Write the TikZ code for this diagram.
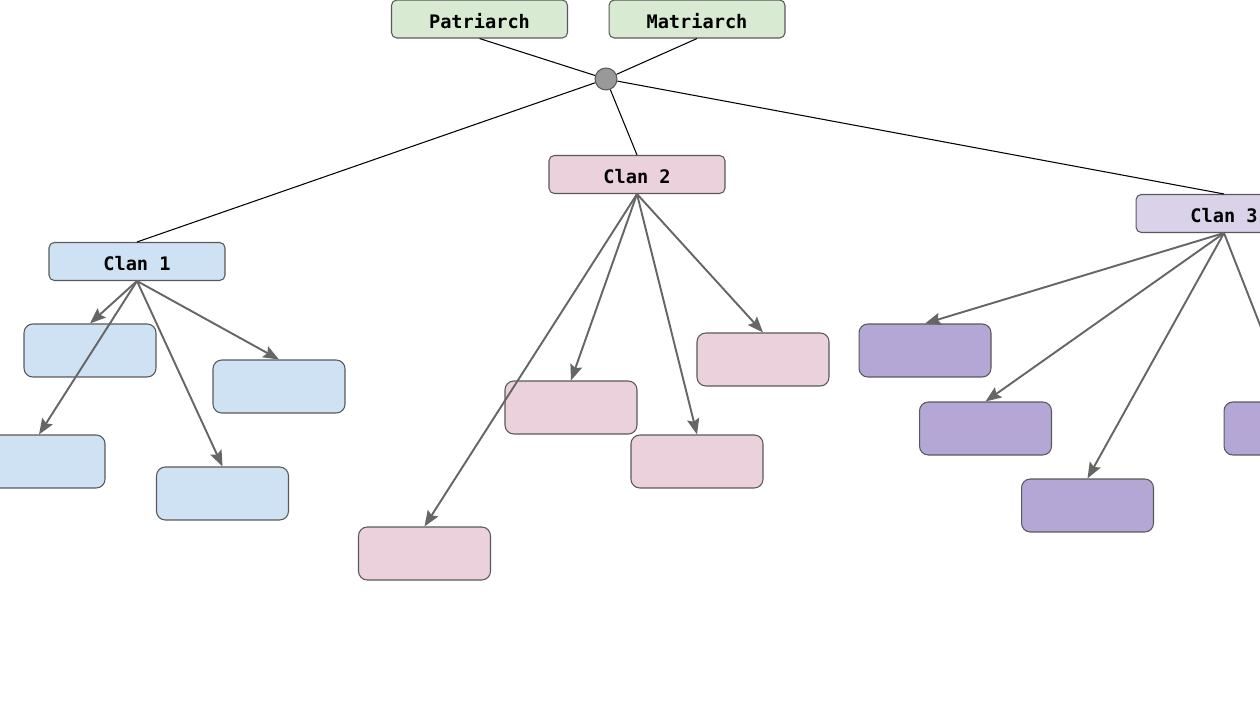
\documentclass[tikz,border=0pt]{standalone}
\usepackage{fontspec}
\setmonofont{DejaVu Sans Mono}
\usepackage{xcolor}
\usepackage{tikz}
\usetikzlibrary{arrows.meta}
\definecolor{ink}{HTML}{000000}
\definecolor{edge}{HTML}{595959}
\definecolor{arrowgray}{HTML}{666666}
\definecolor{sage}{HTML}{D9EAD3}
\definecolor{sky}{HTML}{CFE2F3}
\definecolor{rose}{HTML}{EAD1DC}
\definecolor{lilac}{HTML}{D9D2E9}
\definecolor{plum}{HTML}{B4A7D6}
\definecolor{hubgray}{HTML}{999999}

\begin{document}
\begin{tikzpicture}[x=0.02cm,y=-0.02cm,
    every node/.style={font=\ttfamily\bfseries\fontsize{10.6}{12}\selectfont},
    head/.style={draw=edge,line width=0.6pt,rounded corners=3pt,minimum width=3.52cm,minimum height=0.76cm,inner sep=0pt,text height=1.05em,text depth=0pt},
    kid/.style={draw=edge,line width=0.6pt,rounded corners=5pt,minimum width=2.64cm,minimum height=1.06cm,inner sep=0pt},
    tie/.style={ink,line width=0.6pt},
    down/.style={arrowgray,line width=1.1pt,-{Stealth[length=9pt,width=7pt,inset=1.5pt]}}]
        \useasboundingbox (0,0) rectangle (1260,709);
        \clip (0,0) rectangle (1260,709);
        % parents and hub
        \node[head,fill=sage] (pat) at (479.5,19) {Patriarch};
        \node[head,fill=sage] (mat) at (697,19) {Matriarch};
        \node[circle,draw=edge,fill=hubgray,line width=0.6pt,minimum size=0.44cm,inner sep=0pt] (hub) at (606,79) {};
        \node[head,fill=sky] (clan1) at (137,261.5) {Clan 1};
        \node[head,fill=rose] (clan2) at (637,174.5) {Clan 2};
        \node[head,fill=lilac] (clan3) at (1224,213.5) {Clan 3};
        \draw[tie] (pat.south) -- (hub);
        \draw[tie] (mat.south) -- (hub);
        \draw[tie] (hub) -- (clan1.north);
        \draw[tie] (hub) -- (clan2.north);
        \draw[tie] (hub) -- (clan3.north);
        % clan 1
        \node[kid,fill=sky] (a1) at (90,350.5) {};
        \node[kid,fill=sky] (a2) at (279,386.5) {};
        \node[kid,fill=sky] (a3) at (39,461.5) {};
        \node[kid,fill=sky] (a4) at (222.5,493.5) {};
        \foreach \k in {a1,a2,a3,a4} \draw[down] (clan1.south) -- (\k.north);
        % clan 2
        \node[kid,fill=rose] (b1) at (571,407.5) {};
        \node[kid,fill=rose] (b2) at (763,359.5) {};
        \node[kid,fill=rose] (b3) at (697,461.5) {};
        \node[kid,fill=rose] (b4) at (424.5,553.5) {};
        \foreach \k in {b1,b2,b3,b4} \draw[down] (clan2.south) -- (\k.north);
        % clan 3
        \node[kid,fill=plum] (c1) at (925,350.5) {};
        \node[kid,fill=plum] (c2) at (985.5,428.5) {};
        \node[kid,fill=plum] (c3) at (1087.5,505.5) {};
        \node[kid,fill=plum] (c4) at (1290,428.5) {};
        \foreach \k in {c1,c2,c3,c4} \draw[down] (clan3.south) -- (\k.north);
      \end{tikzpicture}
\end{document}
